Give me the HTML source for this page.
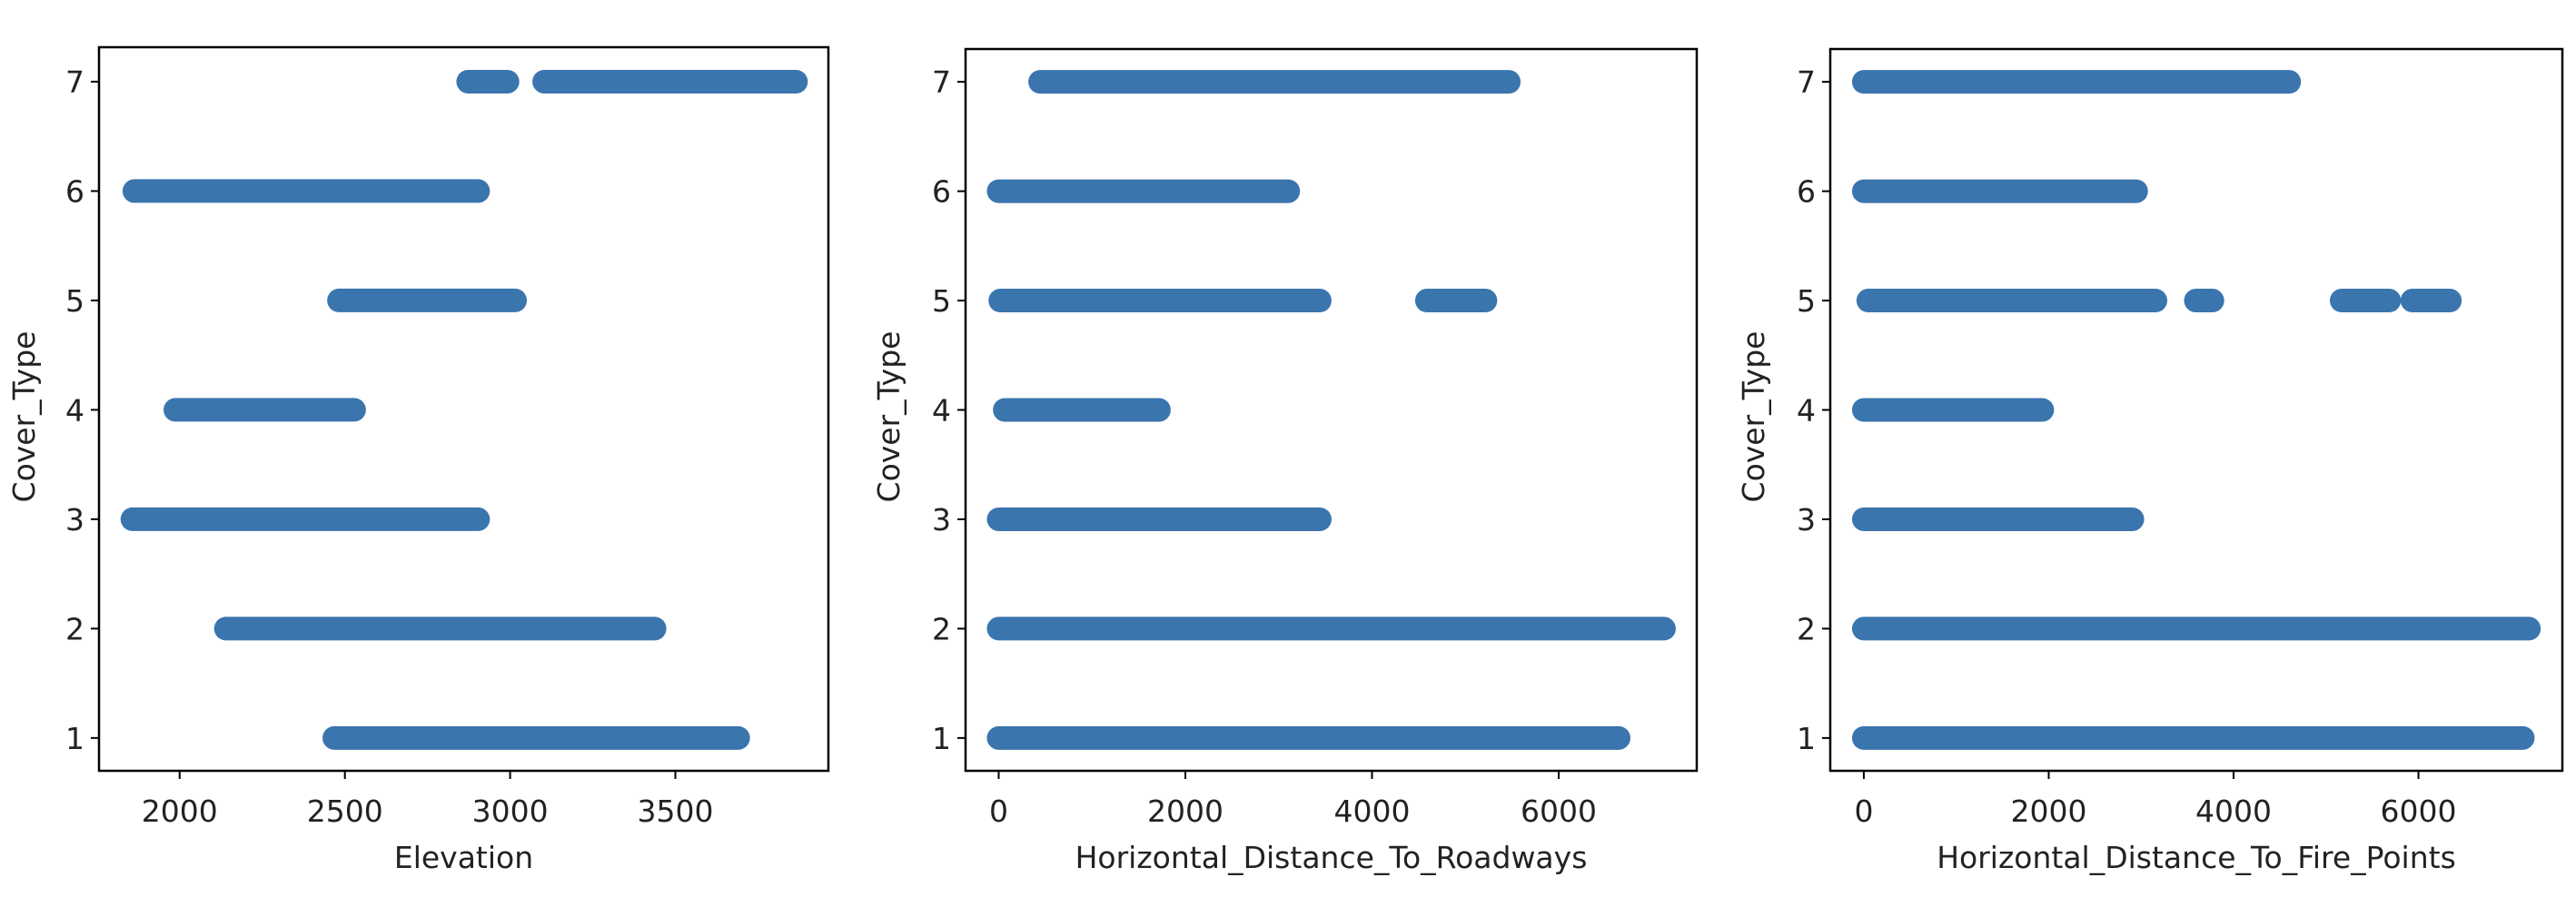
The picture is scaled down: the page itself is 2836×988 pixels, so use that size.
<!DOCTYPE html>
<html><head><meta charset="utf-8"><style>
html,body{margin:0;padding:0;background:#fff;}
svg{display:block;font-family:"DejaVu Sans","Liberation Sans",sans-serif;}
</style></head>
<body>
<svg id="chart" width="2836" height="988" viewBox="0 0 2836 988" xmlns="http://www.w3.org/2000/svg"></svg>
<script>
const yTicks = [1,2,3,4,5,6,7];
const elevTicks = [2000,2500,3000,3500];
const distTicks = [0,2000,4000,6000];
// segments: [coverType, start, end]
const elevationSegments = [[7,2873,2992],[7,3103,3865],[6,1863,2903],[5,2482,3015],[4,1987,2528],[3,1857,2903],[2,2140,3437],[1,2468,3690]];
const roadwaySegments = [[7,444,5465],[6,0,3102],[5,17,3440],[5,4588,5215],[4,65,1717],[3,0,3440],[2,0,7128],[1,0,6642]];
const firePointSegments = [[7,0,4601],[6,0,2946],[5,48,3155],[5,3592,3771],[5,5169,5683],[5,5934,6340],[4,0,1930],[3,0,2905],[2,0,7195],[1,0,7129]];

const NS="http://www.w3.org/2000/svg";
const svg=document.getElementById('chart');
function mk(tag,attrs,parent){const e=document.createElementNS(NS,tag);for(const k in attrs)e.setAttribute(k,attrs[k]);parent.appendChild(e);return e;}

const panels=[
 {name:'elevation',L:109,R:912,T:52,B:849,xmin:1756,xmax:3963,ymin:0.70,ymax:7.315,ticks:elevTicks,segs:elevationSegments,label:'Elevation',ylx:26},
 {name:'roadways',L:1063,R:1868,T:54,B:849,xmin:-355,xmax:7479,ymin:0.70,ymax:7.30,ticks:distTicks,segs:roadwaySegments,label:'Horizontal_Distance_To_Roadways',ylx:978},
 {name:'fire-points',L:2015,R:2821,T:54,B:849,xmin:-363,xmax:7557,ymin:0.70,ymax:7.30,ticks:distTicks,segs:firePointSegments,label:'Horizontal_Distance_To_Fire_Points',ylx:1930}
];
panels.forEach(p=>{
 const g=mk('g',{},svg);
 
 
 const X=v=>p.L+(v-p.xmin)/(p.xmax-p.xmin)*(p.R-p.L);
 const Y=v=>p.B-(v-p.ymin)/(p.ymax-p.ymin)*(p.B-p.T);
 p.segs.forEach(s=>{
  const l=mk('line',{x1:X(s[1]),x2:X(s[2]),y1:Y(s[0]),y2:Y(s[0]),stroke:'#3a75ae','stroke-width':26,'stroke-linecap':'round'},g);
  
  
 });
 const frame=mk('rect',{x:p.L,y:p.T,width:p.R-p.L,height:p.B-p.T,fill:'none',stroke:'#000','stroke-width':2.5},g);
 
 
 yTicks.forEach(t=>{
  mk('line',{x1:p.L-9,x2:p.L,y1:Y(t),y2:Y(t),stroke:'#000','stroke-width':2},g);
  const tx=mk('text',{x:p.L-16,y:Y(t)+12,'text-anchor':'end','font-size':33,fill:'#222'},g);
  tx.textContent=t;
  
  
 });
 p.ticks.forEach(t=>{
  mk('line',{x1:X(t),x2:X(t),y1:p.B,y2:p.B+9,stroke:'#000','stroke-width':2},g);
  const tx=mk('text',{x:X(t),y:p.B+56,'text-anchor':'middle','font-size':33,fill:'#222'},g);
  tx.textContent=t;
  
  
 });
 const xl=mk('text',{x:(p.L+p.R)/2,y:956,'text-anchor':'middle','font-size':33,fill:'#222'},g);
 xl.textContent=p.label;
 
 
 const yl=mk('text',{x:0,y:0,'text-anchor':'middle','font-size':33,fill:'#222',transform:`translate(${p.ylx+12},459) rotate(-90)`},g);
 yl.textContent='Cover_Type';
 
 
});
</script>
</body></html>
